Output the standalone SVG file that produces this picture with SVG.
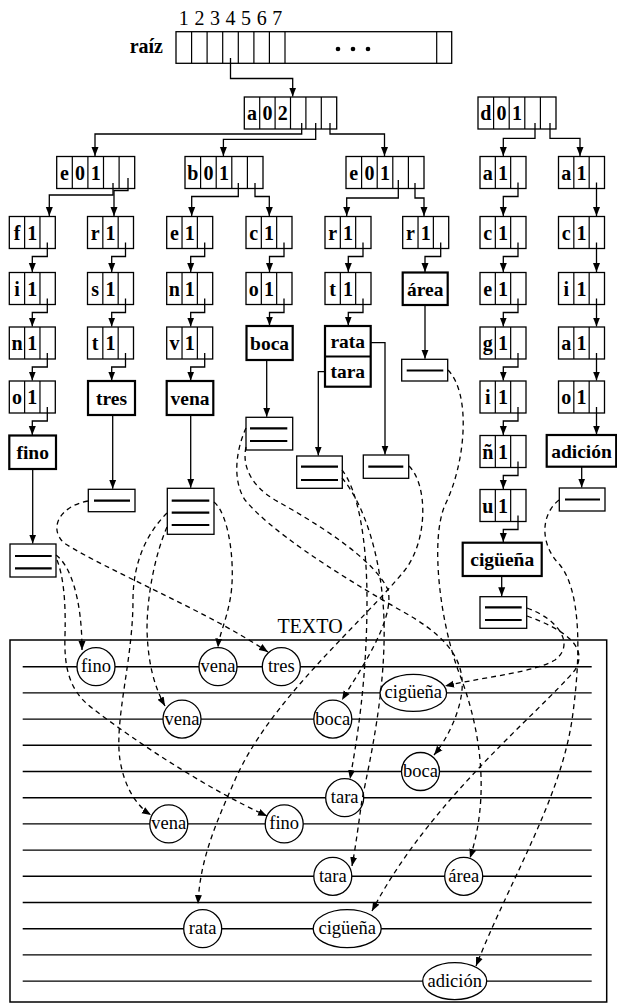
<svg xmlns="http://www.w3.org/2000/svg" xmlns:xlink="http://www.w3.org/1999/xlink" width="617" height="1005" viewBox="0 0 617 1005">
<style>
.box{fill:#fff;stroke:#000;stroke-width:1.3}
.wb{fill:#fff;stroke:#000;stroke-width:2.2}
.dv{fill:none;stroke:#000;stroke-width:1.2}
.t{font-family:"Liberation Serif",serif;font-size:20px;font-weight:bold;text-anchor:middle}
.wt{font-family:"Liberation Serif",serif;font-size:19.5px;font-weight:bold;text-anchor:middle}
.ct{font-family:"Liberation Serif",serif;font-size:18.5px;text-anchor:middle}
.lbl{font-family:"Liberation Serif",serif;font-size:20px}
.ll{stroke:#000;stroke-width:2.2}
.c{fill:none;stroke:#000;stroke-width:1.3;marker-end:url(#ah)}
.d{fill:none;stroke:#000;stroke-width:1.3;stroke-dasharray:5 4;marker-end:url(#ah)}
.hl{stroke:#000;stroke-width:1.4}
.oc{fill:#fff;stroke:#000;stroke-width:1.3}
</style>
<defs>
<marker id="ah" markerUnits="userSpaceOnUse" markerWidth="10" markerHeight="8" refX="9" refY="4" orient="auto"><path d="M0,0.5 L9,4 L0,7.5 z" fill="#000"/></marker>
<g id="cell3"><rect class="box" width="46" height="32"/><path class="dv" d="M15.33,0V32M30.67,0V32"/></g>
<g id="cell5"><rect class="box" width="78" height="32"/><path class="dv" d="M15.6,0V32M31.2,0V32M46.8,0V32M62.4,0V32"/></g>
<g id="cell6"><rect class="box" width="92.4" height="32"/><path class="dv" d="M15.4,0V32M30.8,0V32M46.2,0V32M61.6,0V32M77,0V32"/></g>
</defs>
<rect width="617" height="1005" fill="#fff"/>

<!-- root array -->
<g id="raiz">
<text class="lbl" x="163" y="53" text-anchor="end" font-weight="bold">raíz</text>
<g class="lbl" text-anchor="middle"><text x="183.8" y="25">1</text><text x="199.4" y="25">2</text><text x="214.9" y="25">3</text><text x="230.5" y="25">4</text><text x="246.1" y="25">5</text><text x="261.7" y="25">6</text><text x="277.2" y="25">7</text></g>
<rect class="box" x="176" y="31.7" width="275.7" height="31.6"/>
<path class="dv" d="M191.6,31.7V63.3M207.1,31.7V63.3M222.7,31.7V63.3M238.3,31.7V63.3M253.9,31.7V63.3M269.4,31.7V63.3M285,31.7V63.3M436.7,31.7V63.3"/>
<circle cx="338" cy="49" r="2.3"/><circle cx="353" cy="49" r="2.3"/><circle cx="368" cy="49" r="2.3"/>
</g>

<!-- upper nodes -->
<g id="a02" transform="translate(244.3,97)"><use xlink:href="#cell6"/><text class="t" x="7.7" y="23">a</text><text class="t" x="23.1" y="23">0</text><text class="t" x="38.5" y="23">2</text></g>
<g id="d01" transform="translate(478,97)"><use xlink:href="#cell5"/><text class="t" x="7.8" y="23">d</text><text class="t" x="23.4" y="23">0</text><text class="t" x="39" y="23">1</text></g>
<g id="e01a" transform="translate(56.7,156.5)"><use xlink:href="#cell5"/><text class="t" x="7.8" y="23">e</text><text class="t" x="23.4" y="23">0</text><text class="t" x="39" y="23">1</text></g>
<g id="b01" transform="translate(185,156.5)"><use xlink:href="#cell5"/><text class="t" x="7.8" y="23">b</text><text class="t" x="23.4" y="23">0</text><text class="t" x="39" y="23">1</text></g>
<g id="e01b" transform="translate(346,156.5)"><use xlink:href="#cell5"/><text class="t" x="7.8" y="23">e</text><text class="t" x="23.4" y="23">0</text><text class="t" x="39" y="23">1</text></g>

<!-- column A -->
<g id="A-f" transform="translate(9.3,216.5)"><use xlink:href="#cell3"/><text class="t" x="7.7" y="23">f</text><text class="t" x="23" y="23">1</text></g>
<g id="A-i" transform="translate(9.3,272.5)"><use xlink:href="#cell3"/><text class="t" x="7.7" y="23">i</text><text class="t" x="23" y="23">1</text></g>
<g id="A-n" transform="translate(9.3,327)"><use xlink:href="#cell3"/><text class="t" x="7.7" y="23">n</text><text class="t" x="23" y="23">1</text></g>
<g id="A-o" transform="translate(9.3,381)"><use xlink:href="#cell3"/><text class="t" x="7.7" y="23">o</text><text class="t" x="23" y="23">1</text></g>
<g id="w-fino"><rect class="wb" x="9.3" y="435.5" width="46.7" height="33.5"/><text class="wt" x="32.7" y="459">fino</text></g>
<g id="l-fino"><rect class="box" x="10" y="544" width="46" height="33"/><path class="ll" d="M15,556H51.7M15,568.3H51.7"/></g>

<!-- column B -->
<g id="B-r" transform="translate(87.5,216.5)"><use xlink:href="#cell3"/><text class="t" x="7.7" y="23">r</text><text class="t" x="23" y="23">1</text></g>
<g id="B-s" transform="translate(87.5,272.5)"><use xlink:href="#cell3"/><text class="t" x="7.7" y="23">s</text><text class="t" x="23" y="23">1</text></g>
<g id="B-t" transform="translate(87.5,327)"><use xlink:href="#cell3"/><text class="t" x="7.7" y="23">t</text><text class="t" x="23" y="23">1</text></g>
<g id="w-tres"><rect class="wb" x="88" y="381" width="47" height="34"/><text class="wt" x="111.5" y="405">tres</text></g>
<g id="l-tres"><rect class="box" x="88.3" y="489.3" width="46.7" height="22.4"/><path class="ll" d="M94,500.7H130"/></g>

<!-- column C -->
<g id="C-e" transform="translate(166.7,216.5)"><use xlink:href="#cell3"/><text class="t" x="7.7" y="23">e</text><text class="t" x="23" y="23">1</text></g>
<g id="C-n" transform="translate(166.7,272.5)"><use xlink:href="#cell3"/><text class="t" x="7.7" y="23">n</text><text class="t" x="23" y="23">1</text></g>
<g id="C-v" transform="translate(166.7,327)"><use xlink:href="#cell3"/><text class="t" x="7.7" y="23">v</text><text class="t" x="23" y="23">1</text></g>
<g id="w-vena"><rect class="wb" x="166.7" y="381" width="46.6" height="34"/><text class="wt" x="190" y="405">vena</text></g>
<g id="l-vena"><rect class="box" x="167.3" y="488.3" width="46.7" height="46"/><path class="ll" d="M171.7,500.7H209.3M171.7,512.7H209.3M171.7,525H209.3"/></g>

<!-- column D -->
<g id="D-c" transform="translate(246,216.5)"><use xlink:href="#cell3"/><text class="t" x="7.7" y="23">c</text><text class="t" x="23" y="23">1</text></g>
<g id="D-o" transform="translate(246,272.5)"><use xlink:href="#cell3"/><text class="t" x="7.7" y="23">o</text><text class="t" x="23" y="23">1</text></g>
<g id="w-boca"><rect class="wb" x="246.5" y="326" width="46.2" height="34"/><text class="wt" x="269.6" y="350">boca</text></g>
<g id="l-boca"><rect class="box" x="246" y="417.3" width="46.7" height="32.7"/><path class="ll" d="M250,428.3H287.3M250,441H287.3"/></g>

<!-- column E -->
<g id="E-r" transform="translate(325,216.5)"><use xlink:href="#cell3"/><text class="t" x="7.7" y="23">r</text><text class="t" x="23" y="23">1</text></g>
<g id="E-t" transform="translate(325,272.5)"><use xlink:href="#cell3"/><text class="t" x="7.7" y="23">t</text><text class="t" x="23" y="23">1</text></g>
<g id="w-ratatara"><rect class="wb" x="325" y="326" width="45.7" height="60.7"/><path class="ll" d="M325,356.5H370.7"/><text class="wt" x="347.8" y="348">rata</text><text class="wt" x="347.8" y="378">tara</text></g>
<g id="l-tara"><rect class="box" x="296.7" y="456" width="45.6" height="32.3"/><path class="ll" d="M301,466.7H338M301,480H338"/></g>
<g id="l-rata"><rect class="box" x="363.3" y="455" width="45.4" height="23.3"/><path class="ll" d="M368.3,466.7H403.3"/></g>

<!-- column F -->
<g id="F-r" transform="translate(402.7,216.5)"><use xlink:href="#cell3"/><text class="t" x="7.7" y="23">r</text><text class="t" x="23" y="23">1</text></g>
<g id="w-area"><rect class="wb" x="402.7" y="272.5" width="45" height="32.5"/><text class="wt" x="425.2" y="295.5">área</text></g>
<g id="l-area"><rect class="box" x="401.7" y="359.3" width="46" height="21.7"/><path class="ll" d="M406.7,370.5H443.3"/></g>

<!-- column G -->
<g id="G-a" transform="translate(480,156.5)"><use xlink:href="#cell3"/><text class="t" x="7.7" y="23">a</text><text class="t" x="23" y="23">1</text></g>
<g id="G-c" transform="translate(480,216.5)"><use xlink:href="#cell3"/><text class="t" x="7.7" y="23">c</text><text class="t" x="23" y="23">1</text></g>
<g id="G-e" transform="translate(480,272.5)"><use xlink:href="#cell3"/><text class="t" x="7.7" y="23">e</text><text class="t" x="23" y="23">1</text></g>
<g id="G-g" transform="translate(480,327)"><use xlink:href="#cell3"/><text class="t" x="7.7" y="23">g</text><text class="t" x="23" y="23">1</text></g>
<g id="G-i" transform="translate(480,381)"><use xlink:href="#cell3"/><text class="t" x="7.7" y="23">i</text><text class="t" x="23" y="23">1</text></g>
<g id="G-n" transform="translate(480,435.5)"><use xlink:href="#cell3"/><text class="t" x="7.7" y="23">ñ</text><text class="t" x="23" y="23">1</text></g>
<g id="G-u" transform="translate(480,489.5)"><use xlink:href="#cell3"/><text class="t" x="7.7" y="23">u</text><text class="t" x="23" y="23">1</text></g>
<g id="w-ciguena"><rect class="wb" x="462.7" y="542.7" width="79" height="33.3"/><text class="wt" x="502.2" y="566">cigüeña</text></g>
<g id="l-ciguena"><rect class="box" x="480" y="596.7" width="46.7" height="31.6"/><path class="ll" d="M485,607.3H521.7M485,620H521.7"/></g>

<!-- column H -->
<g id="H-a" transform="translate(558.5,156.5)"><use xlink:href="#cell3"/><text class="t" x="7.7" y="23">a</text><text class="t" x="23" y="23">1</text></g>
<g id="H-c" transform="translate(558.5,216.5)"><use xlink:href="#cell3"/><text class="t" x="7.7" y="23">c</text><text class="t" x="23" y="23">1</text></g>
<g id="H-i" transform="translate(558.5,272.5)"><use xlink:href="#cell3"/><text class="t" x="7.7" y="23">i</text><text class="t" x="23" y="23">1</text></g>
<g id="H-a2" transform="translate(558.5,327)"><use xlink:href="#cell3"/><text class="t" x="7.7" y="23">a</text><text class="t" x="23" y="23">1</text></g>
<g id="H-o" transform="translate(558.5,381)"><use xlink:href="#cell3"/><text class="t" x="7.7" y="23">o</text><text class="t" x="23" y="23">1</text></g>
<g id="w-adicion"><rect class="wb" x="546.7" y="435" width="69.5" height="31.7"/><text class="wt" x="581.5" y="458">adición</text></g>
<g id="l-adicion"><rect class="box" x="559.3" y="488" width="45.7" height="23"/><path class="ll" d="M565,499.5H600"/></g>

<!-- TEXTO -->
<g id="texto">
<rect x="10" y="640" width="596.7" height="362" fill="none" stroke="#000" stroke-width="1.5"/>
<text class="lbl" x="310" y="633" text-anchor="middle">TEXTO</text>
<path class="hl" d="M22.7,666.7H591.7M22.7,692.9H591.7M22.7,719.1H591.7M22.7,745.3H591.7M22.7,771.5H591.7M22.7,797.7H591.7M22.7,823.9H591.7M22.7,850.1H591.7M22.7,876.3H591.7M22.7,902.5H591.7M22.7,928.7H591.7M22.7,954.9H591.7M22.7,981.1H591.7"/>
</g>
<g id="occ">
<g id="o-fino1"><circle class="oc" cx="96" cy="666.7" r="19"/><text class="ct" x="96" y="672.2">fino</text></g>
<g id="o-vena1"><circle class="oc" cx="218" cy="666.7" r="19"/><text class="ct" x="218" y="672.2">vena</text></g>
<g id="o-tres1"><circle class="oc" cx="281.3" cy="666.7" r="19"/><text class="ct" x="281.3" y="672.2">tres</text></g>
<g id="o-cig2"><ellipse class="oc" cx="413.3" cy="692.9" rx="33.3" ry="18.5"/><text class="ct" x="413.3" y="698.4">cigüeña</text></g>
<g id="o-vena3"><circle class="oc" cx="182" cy="719.1" r="19"/><text class="ct" x="182" y="724.6">vena</text></g>
<g id="o-boca3"><circle class="oc" cx="332.8" cy="719.1" r="19"/><text class="ct" x="332.8" y="724.6">boca</text></g>
<g id="o-boca5"><circle class="oc" cx="420.5" cy="771.5" r="19"/><text class="ct" x="420.5" y="777">boca</text></g>
<g id="o-tara6"><circle class="oc" cx="344.7" cy="797.7" r="19"/><text class="ct" x="344.7" y="803.2">tara</text></g>
<g id="o-vena7"><circle class="oc" cx="168.8" cy="823.9" r="19"/><text class="ct" x="168.8" y="829.4">vena</text></g>
<g id="o-fino7"><circle class="oc" cx="284.2" cy="823.9" r="19"/><text class="ct" x="284.2" y="829.4">fino</text></g>
<g id="o-tara9"><circle class="oc" cx="332.8" cy="876.3" r="19"/><text class="ct" x="332.8" y="881.8">tara</text></g>
<g id="o-area9"><circle class="oc" cx="463.7" cy="876.3" r="19"/><text class="ct" x="463.7" y="881.8">área</text></g>
<g id="o-rata11"><circle class="oc" cx="202.7" cy="928.7" r="19"/><text class="ct" x="202.7" y="934.2">rata</text></g>
<g id="o-cig11"><ellipse class="oc" cx="347.2" cy="928.7" rx="34" ry="19"/><text class="ct" x="347.2" y="934.2">cigüeña</text></g>
<g id="o-adicion13"><ellipse class="oc" cx="454.7" cy="981.1" rx="32" ry="18.5"/><text class="ct" x="454.7" y="986.6">adición</text></g>
</g>

<!-- connectors -->
<g id="connectors">
<path class="c" d="M230.5,58V78.5H292.7V96.5"/>
<path class="c" d="M301.7,123V134H95V156"/>
<path class="c" d="M315.7,123V139.3H223.4V156"/>
<path class="c" d="M330,123V134H384.5V156"/>
<path class="c" d="M535,123V138.3H503.3V156"/>
<path class="c" d="M550,123V138.3H580V156"/>
<path class="c" d="M113,183V195H49.3V216"/>
<path class="c" d="M128,178V190.5H114V216"/>
<path class="c" d="M238.3,183V196.5H191.7V216"/>
<path class="c" d="M255,183V196.5H269.3V216"/>
<path class="c" d="M398.3,180V198H346.7V216"/>
<path class="c" d="M415,183V198H424V216"/>
<path class="c" d="M47.3,242.5V256.5H32.3V272"/>
<path class="c" d="M47.3,298.5V312.5H32.3V326.5"/>
<path class="c" d="M47.3,353V367H32.3V380.5"/>
<path class="c" d="M47.3,407V421H32.3V435"/>
<path class="c" d="M125.5,242.5V256.5H111.7V272"/>
<path class="c" d="M125.5,298.5V312.5H111.7V326.5"/>
<path class="c" d="M125.5,353V367H111.7V380.5"/>
<path class="c" d="M204.7,242.5V256.5H190.7V272"/>
<path class="c" d="M204.7,298.5V312.5H190.7V326.5"/>
<path class="c" d="M204.7,353V367H190.7V380.5"/>
<path class="c" d="M284,242.5V256.5H269.5V272"/>
<path class="c" d="M284,298.5V312.5H269.5V325.5"/>
<path class="c" d="M363,242.5V256.5H348.3V272"/>
<path class="c" d="M363,298.5V312.5H348.3V325.5"/>
<path class="c" d="M440.7,242.5V256.5H425V272"/>
<path class="c" d="M518,182.5V196.5H503.3V216"/>
<path class="c" d="M518,242.5V256.5H503.3V272"/>
<path class="c" d="M518,298.5V312.5H503.3V326.5"/>
<path class="c" d="M518,353V367H503.3V380.5"/>
<path class="c" d="M518,407V421H503.3V435"/>
<path class="c" d="M518,461.5V475.5H503.3V489"/>
<path class="c" d="M518,515.5V529.5H503.3V542"/>
<path class="c" d="M596.5,182.5V216"/>
<path class="c" d="M596.5,242.5V272"/>
<path class="c" d="M596.5,298.5V326.5"/>
<path class="c" d="M596.5,353V380.5"/>
<path class="c" d="M596.5,407V434.5"/>
<path class="c" d="M32.7,469.5V543.5"/>
<path class="c" d="M112.7,415V488.8"/>
<path class="c" d="M190.7,415V487.8"/>
<path class="c" d="M266.7,360V416.8"/>
<path class="c" d="M370.7,342.7H385V454.5"/>
<path class="c" d="M325,371.7H318.3V455.5"/>
<path class="c" d="M425,305V358.8"/>
<path class="c" d="M501.7,576V596.2"/>
<path class="c" d="M581.7,467V487.5"/>
<!-- dashed references into TEXTO -->
<path class="d" d="M56,555C70,565 82,598 82,650"/>
<path class="d" d="M57,560C63,575 66,600 65,635C64,665 68,690 92,708C140,745 210,790 267,816"/>
<path class="d" d="M88,501C60,506 48,528 64,543C110,572 205,610 268,652"/>
<path class="d" d="M214,502C230,515 236,570 230,600C226,622 219,635 218,647.5"/>
<path class="d" d="M167,527C155,555 147,595 147,630C148,665 155,688 165,706"/>
<path class="d" d="M167,513C145,535 133,565 133,600C133,660 114,720 120,760C124,785 135,805 151,815"/>
<path class="d" d="M246,428C236,450 232,480 245,500C270,530 330,570 400,610C440,632 465,655 462,690C460,712 448,738 434,755"/>
<path class="d" d="M246,447C242,465 250,485 275,500C320,525 375,560 388,590C395,620 360,670 342,700"/>
<path class="d" d="M342,470C358,490 367,540 367,600C367,680 357,740 350,779"/>
<path class="d" d="M342,478C365,505 382,560 384,620C386,690 370,760 362,800C359,820 356,845 352,866"/>
<path class="d" d="M409,466C428,485 428,540 405,570C360,625 270,700 235,780C215,825 200,860 198,904"/>
<path class="d" d="M448,370C472,395 465,465 445,505C430,540 440,620 458,670C478,720 492,790 470,858"/>
<path class="d" d="M527,608C560,620 575,645 555,660C535,672 490,676 445,686"/>
<path class="d" d="M527,616C560,628 590,645 575,670C540,712 430,800 372,911"/>
<path class="d" d="M559,500C540,515 540,545 560,565C580,590 582,650 572,720C560,800 510,880 476,966"/>
</g>
</svg>
